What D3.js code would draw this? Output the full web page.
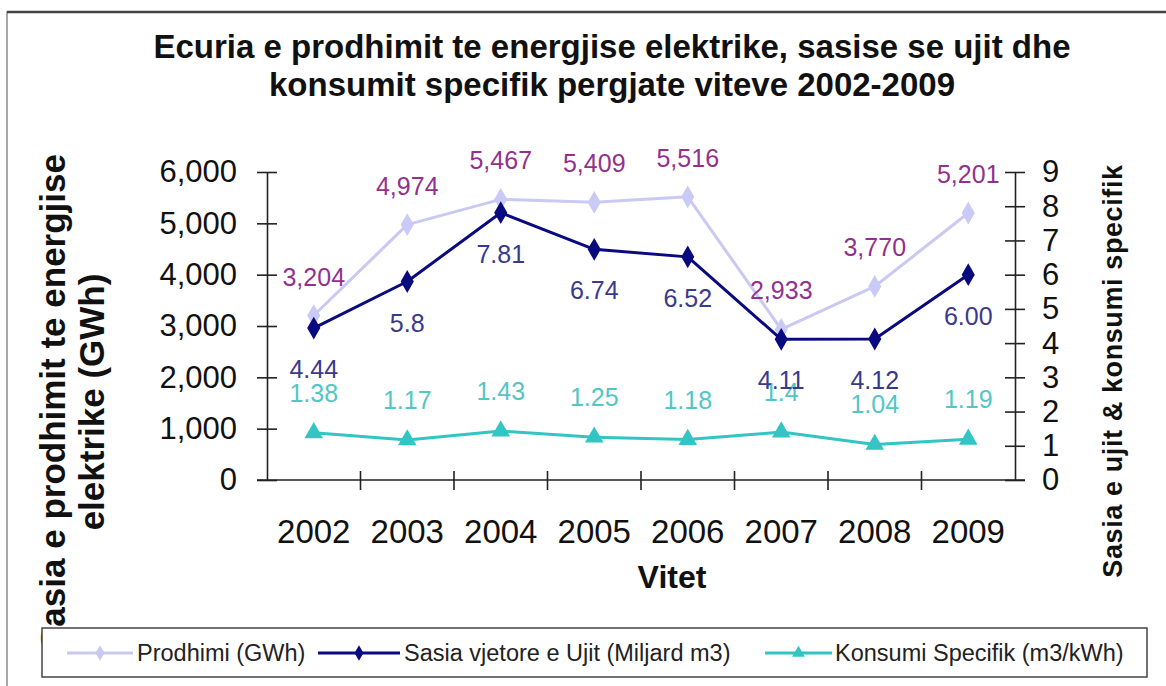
<!DOCTYPE html>
<html><head><meta charset="utf-8">
<script src="https://cdnjs.cloudflare.com/ajax/libs/d3/7.8.5/d3.min.js"></script>
<style>
html,body{margin:0;padding:0;background:#fff;}
svg{display:block;font-family:"Liberation Sans",Arial,Helvetica,sans-serif;}
</style></head>
<body>
<svg id="chart" width="1166" height="686"></svg>
<script>
const years = ["2002","2003","2004","2005","2006","2007","2008","2009"];
const prodhimi = [3204, 4974, 5467, 5409, 5516, 2933, 3770, 5201];
const sasia = [4.44, 5.8, 7.81, 6.74, 6.52, 4.11, 4.12, 6.00];
const sasiaLabels = ["4.44","5.8","7.81","6.74","6.52","4.11","4.12","6.00"];
const konsumi = [1.38, 1.17, 1.43, 1.25, 1.18, 1.4, 1.04, 1.19];
const konsumiLabels = ["1.38","1.17","1.43","1.25","1.18","1.4","1.04","1.19"];
const leftTicks = [0,1000,2000,3000,4000,5000,6000];
const rightTicks = [0,1,2,3,4,5,6,7,8,9];
const titleLines = ["Ecuria e prodhimit te energjise elektrike, sasise se ujit dhe","konsumit specifik pergjate viteve 2002-2009"];
const leftTitle = ["Sasia e prodhimit te energjise","elektrike (GWh)"];
const rightTitle = "Sasia e ujit & konsumi  specifik";
const xTitle = "Vitet";
const seriesNames = ["Prodhimi (GWh)","Sasia vjetore e Ujit (Miljard m3)","Konsumi Specifik (m3/kWh)"];

const svg = d3.select("#chart");
const L = 267, R = 1015, T = 172, B = 480;
const x = d3.scaleBand().domain(years).range([L, R]).padding(0);
const cx = d => x(d) + x.bandwidth()/2;
const yL = d3.scaleLinear().domain([0,6000]).range([B, T]);
const yR = d3.scaleLinear().domain([0,9]).range([B, T]);

// frame
svg.append("rect").attr("x",7).attr("y",12).attr("width",1180).attr("height",700)
  .attr("fill","#fff").attr("stroke","#8a8a8a").attr("stroke-width",1.5);
svg.append("line").attr("x1",7).attr("x2",1166).attr("y1",12).attr("y2",12)
  .attr("stroke","#444").attr("stroke-width",2.5);

// title
svg.append("g").selectAll("text").data(titleLines).join("text")
  .attr("x",612).attr("y",(d,i)=>58+i*38).attr("text-anchor","middle")
  .attr("font-size",33).attr("font-weight","bold").attr("fill","#111")
  .text(d=>d);

// left axis title
const lt = svg.append("text").attr("transform","translate(0,402) rotate(-90)")
  .attr("text-anchor","middle").attr("font-weight","bold").attr("font-size",35).attr("fill","#111");
lt.selectAll("tspan").data(leftTitle).join("tspan").attr("x",0).attr("y",(d,i)=>65+i*39).text(d=>d);

// right axis title
svg.append("text").attr("transform","translate(1122,371) rotate(-90)")
  .attr("text-anchor","middle").attr("font-weight","bold").attr("font-size",27).attr("letter-spacing",0.6).attr("fill","#111")
  .text(rightTitle);

// axes
const axL = svg.append("g").attr("transform",`translate(${L},0)`)
  .call(d3.axisLeft(yL).tickValues(leftTicks).tickFormat(d3.format(",")).tickSizeOuter(0).tickPadding(30));
const axR = svg.append("g").attr("transform",`translate(${R},0)`)
  .call(d3.axisRight(yR).tickValues(rightTicks).tickFormat(d3.format("d")).tickSizeOuter(0).tickPadding(28));
[axL, axR].forEach(a=>{
  a.select(".domain").attr("stroke","#222").attr("stroke-width",1.6);
  a.selectAll(".tick line").attr("x1",-10).attr("x2",10).attr("stroke","#222").attr("stroke-width",1.6);
  a.selectAll(".tick text").attr("font-size",31).attr("fill","#111").attr("font-family","Liberation Sans, Arial, sans-serif");
});
axL.selectAll(".tick text").attr("x",-30);
axR.selectAll(".tick text").attr("x",27);

// x axis
const gx = svg.append("g");
gx.append("line").attr("x1",L-10).attr("x2",R+10).attr("y1",B).attr("y2",B).attr("stroke","#222").attr("stroke-width",1.6);
const bounds = years.slice(1).map(d=>x(d));
gx.selectAll("line.t").data(bounds).join("line").attr("class","t")
  .attr("x1",d=>d).attr("x2",d=>d).attr("y1",B-9).attr("y2",B+10).attr("stroke","#222").attr("stroke-width",1.6);
gx.selectAll("text").data(years).join("text")
  .attr("x",d=>cx(d)).attr("y",543).attr("text-anchor","middle").attr("font-size",33).attr("fill","#111").text(d=>d);
svg.append("text").attr("x",672).attr("y",588).attr("text-anchor","middle")
  .attr("font-size",32).attr("font-weight","bold").attr("fill","#111").text(xTitle);

// series
const diamond = d3.symbol().type(d3.symbolDiamond).size(150);
const tri = d3.symbol().type(d3.symbolTriangle).size(150);
function series(vals, yS, color, lineW, sym, mcolor){
  const g = svg.append("g");
  g.append("path").datum(vals)
    .attr("d", d3.line().x((d,i)=>cx(years[i])).y(d=>yS(d)))
    .attr("fill","none").attr("stroke",color).attr("stroke-width",lineW).attr("stroke-linejoin","round");
  g.selectAll("path.m").data(vals).join("path").attr("class","m")
    .attr("transform",(d,i)=>`translate(${cx(years[i])},${yS(d)})`)
    .attr("d",sym).attr("fill",mcolor);
  return g;
}
series(prodhimi, yL, "#c9c9f3", 3, diamond, "#cacaf6");
series(sasia, yR, "#0a0a80", 3, diamond, "#0a0a80");
series(konsumi, yR, "#33c4c4", 3, tri, "#33c4c4");

// data labels
const fmt = d3.format(",");
svg.append("g").selectAll("text").data(prodhimi).join("text")
  .attr("x",(d,i)=>cx(years[i])).attr("y",d=>yL(d)-30).attr("text-anchor","middle")
  .attr("font-size",25).attr("fill","#93308f").text(d=>fmt(d));
svg.append("g").selectAll("text").data(konsumi).join("text")
  .attr("x",(d,i)=>cx(years[i])).attr("y",d=>yR(d)-31).attr("text-anchor","middle")
  .attr("font-size",25).attr("fill","#52c6c6").text((d,i)=>konsumiLabels[i]);
svg.append("g").selectAll("text").data(sasia).join("text")
  .attr("x",(d,i)=>cx(years[i])).attr("y",d=>yR(d)+50).attr("text-anchor","middle")
  .attr("font-size",25).attr("fill","#3a3a8c").text((d,i)=>sasiaLabels[i]);

// legend
const lg = svg.append("g");
lg.append("rect").attr("x",42).attr("y",628).attr("width",1105).attr("height",49)
  .attr("fill","#fff").attr("stroke","#444").attr("stroke-width",1.5);
const items = [
  {name:seriesNames[0], x1:67, x2:133, color:"#c9c9f3", tri:false, tx:137},
  {name:seriesNames[1], x1:318, x2:400, color:"#0a0a80", tri:false, tx:404},
  {name:seriesNames[2], x1:765, x2:832, color:"#33c4c4", tri:true, tx:835}
];
items.forEach(it=>{
  lg.append("line").attr("x1",it.x1).attr("x2",it.x2).attr("y1",653).attr("y2",653).attr("stroke",it.color).attr("stroke-width",3);
  lg.append("path").attr("transform",`translate(${(it.x1+it.x2)/2},653)`).attr("d",d3.symbol().type(it.tri?d3.symbolTriangle:d3.symbolDiamond).size(70)).attr("fill",it.color);
  lg.append("text").attr("x",it.tx).attr("y",661).attr("font-size",23.5).attr("fill","#222").text(it.name);
});
</script>
</body></html>
